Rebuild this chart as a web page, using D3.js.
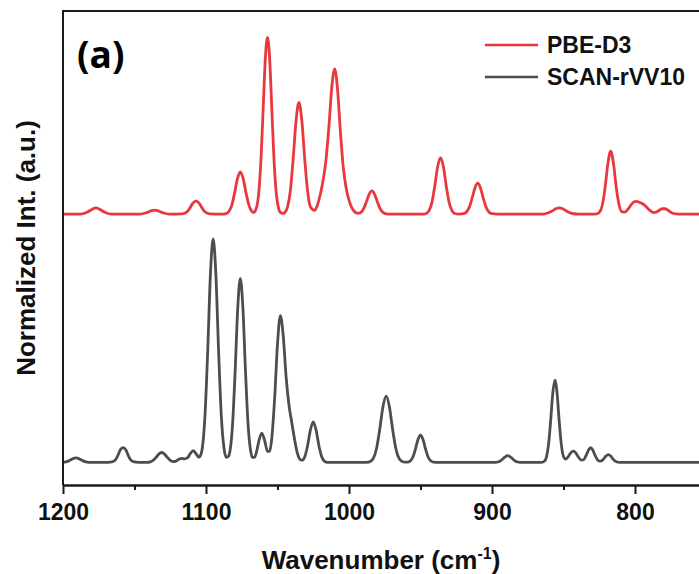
<!DOCTYPE html>
<html>
<head>
<meta charset="utf-8">
<script src="https://cdn.jsdelivr.net/npm/d3@7"></script>
<style>
  body { margin: 0; background: #fff; }
  svg { display: block; }
</style>
</head>
<body>
<svg id="chart"></svg>
<script>
// spectra: [wavenumber (cm-1), normalized intensity above own baseline]
const pbeD3 = [
  [1200,0],[1188,0],[1184,.006],[1181,.016],[1179,.024],[1177,.028],[1175,.024],[1173,.016],[1170,.006],[1166,0],
  [1147,0],[1143,.004],[1140,.01],[1138,.0155],[1136,.018],[1134,.0155],[1132,.01],[1129,.004],[1125,0],
  [1117,.001],[1115,.004],[1113,.012],[1111,.03],[1109,.05],[1107,.059],[1105,.05],[1103,.03],[1101,.012],[1099,.004],[1097,.001],[1090,0],
  [1088,0],[1086,.002],[1084,.012],[1082,.039],[1080,.094],[1078,.157],[1076,.187],[1074,.157],[1072,.094],[1070,.04],[1068,.013],[1066.5,.008],
  [1064.5,.033],[1063,.102],[1061.5,.249],[1060,.471],[1058.5,.69],[1057,.783],[1055.5,.69],[1054,.471],[1052.5,.249],[1051,.102],[1049.5,.033],[1048,.008],[1046,.003],
  [1045,.0065],[1043,.031],[1041,.104],[1039,.248],[1037,.416],[1035,.495],[1033,.416],[1031,.248],[1029,.104],[1027,.033],
  [1024,.017],[1022,.042],[1020,.089],[1018,.154],[1016,.245],[1014,.391],[1012,.564],[1010,.644],[1008,.552],[1006,.365],[1004,.207],[1002,.116],[1000,.062],[998,.028],[996,.01],[994,.004],
  [992,.0064],[990,.0216],[988,.0515],[986,.0866],[984,.103],[982,.0866],[980,.0515],[978,.0216],[976,.0064],[974,.0013],[970,0],
  [948,0],[946,.003],[944,.016],[942,.052],[940,.125],[938,.21],[936,.25],[934,.21],[932,.125],[930,.052],[928,.016],[926,.003],[923,0],
  [920,.0018],[918,.0086],[916,.029],[914,.0685],[912,.115],[910,.137],[908,.115],[906,.0685],[904,.029],[902,.0086],[900,.0018],[896,0],
  [866,0],[863,.0017],[860.5,.0059],[858,.014],[855.5,.0235],[853,.028],[850.5,.0235],[848,.014],[845.5,.0059],[843,.0017],[839,0],
  [829,0],[827,.001],[825,.0075],[823,.036],[821,.113],[819,.222],[817,.279],[815,.222],[813,.113],[811,.037],[809,.0097],[807,.009],
  [805,.021],[803,.039],[801,.053],[799,.057],[797,.053],[795,.047],[793,.038],[791,.025],[789,.013],[787,.007],[785,.0095],
  [783,.017],[781,.024],[779,.024],[777,.017],[775,.0085],[773,.003],[771,.0008],[768,0],[700,0]
];

const scanRvv10 = [
  [1200,.001],[1198,.0024],[1196,.0068],[1194,.0135],[1192,.019],[1191,.02],[1190,.019],[1188,.0135],[1186,.0068],[1184,.0024],[1182,.0006],[1178,0],
  [1170,0],[1167,.001],[1165,.004],[1163,.014],[1161.5,.033],[1160,.055],[1158,.066],[1156,.055],[1154.5,.033],[1153,.014],[1151,.004],[1149,.001],[1145,0],
  [1141,.0006],[1139,.0028],[1137,.009],[1135,.022],[1133,.037],[1131,.044],[1129,.037],[1127,.022],[1125,.009],[1123,.004],[1121,.006],
  [1119,.014],[1117,.018],[1115,.016],[1113,.02],[1111,.039],[1109,.052],[1107,.039],[1105,.023],[1103.5,.036],
  [1102,.095],[1100.7,.208],[1098.8,.495],[1096.9,.833],[1095,.99],[1093.1,.833],[1091.2,.495],[1089.3,.208],[1087.4,.063],[1085.8,.022],[1084,.03],
  [1083.2,.052],[1081.4,.171],[1079.6,.4075],[1077.8,.685],[1076,.815],[1074.2,.685],[1072.4,.4075],[1070.6,.171],[1068.8,.052],[1067.5,.022],[1066,.023],
  [1064.5,.051],[1063,.096],[1061,.13],[1059,.097],[1057,.049],[1055.5,.05],
  [1054,.107],[1052,.284],[1050,.525],[1048,.65],[1046,.562],[1044,.38],[1042,.255],[1040,.176],[1038,.10],[1036,.039],[1034,.012],[1032.5,.01],
  [1031,.024],[1029,.073],[1027,.143],[1025,.18],[1023,.143],[1021,.073],[1019,.024],[1017,.0048],[1015,.0004],[1010,0],
  [990,0],[988,.0004],[985.25,.0038],[983,.018],[980.75,.062],[978.5,.147],[976.25,.247],[974,.294],[971.75,.247],[969.5,.147],[967.25,.062],[965,.018],[962.75,.004],[960.8,.001],
  [959,.0016],[957,.0076],[955.25,.025],[953.5,.06],[951.75,.102],[950,.121],[948.25,.102],[946.5,.06],[944.75,.025],[943,.008],[941,.0016],[937,0],
  [900,0],[897.75,.0004],[896,.0019],[894.25,.0063],[892.5,.015],[890.75,.025],[889,.03],[887.25,.025],[885.5,.015],[883.75,.0063],[882,.0019],[880.25,.0004],[876,0],
  [866,0],[863.5,.0047],[862,.0228],[860.5,.0767],[859,.1825],[857.5,.307],[856,.365],[854.5,.307],[853,.1825],[851.5,.078],[850,.0265],[848.5,.015],
  [847,.023],[845,.042],[843.2,.05],[841.5,.043],[839.5,.023],[837.5,.0105],[836,.012],[834,.033],[832.5,.055],[831,.065],[829.5,.0547],[828,.033],
  [826.5,.014],[825,.0057],[823.5,.0068],[822,.015],[820.5,.027],[818.7,.035],[817,.028],[815.5,.016],[814,.0064],[812.5,.0018],[811,.0004],[808,0],[700,0]
];

const seriesNames = ['PBE-D3', 'SCAN-rVV10'];
const seriesOffsets = [1.1, 0];
const seriesColors = ['#e8383d', '#4d4d4d'];
const majorTicks = [1200, 1100, 1000, 900, 800];
const minorTicks = [1150, 1050, 950, 850];

const W = 699, H = 574;
const margin = { top: 11, left: 63, bottom: 89 };

const svg = d3.select('#chart').attr('width', W).attr('height', H);

const x = d3.scaleLinear().domain([1200, 700]).range([margin.left, margin.left + 500 * 1.43]);
const y = d3.scaleLinear().domain([-0.1, 2.0]).range([H - margin.bottom, margin.top]);

const font = '"Liberation Sans", Arial, sans-serif';

// spectra
const line = d3.line()
  .x(d => x(d[0]))
  .y(d => y(d[1]))
  .curve(d3.curveMonotoneX);

[pbeD3, scanRvv10].forEach((s, i) => {
  svg.append('path')
    .datum(s.map(d => [d[0], d[1] + seriesOffsets[i]]))
    .attr('fill', 'none')
    .attr('stroke', seriesColors[i])
    .attr('stroke-width', 2.8)
    .attr('stroke-linejoin', 'round')
    .attr('d', line);
});

// frame: top line and left axis
svg.append('line')
  .attr('x1', x(1200)).attr('x2', W)
  .attr('y1', y(2.0)).attr('y2', y(2.0))
  .attr('stroke', '#1a1a1a').attr('stroke-width', 2);
svg.append('line')
  .attr('x1', x(1200)).attr('x2', x(1200))
  .attr('y1', y(2.0) - 1).attr('y2', y(-0.1))
  .attr('stroke', '#1a1a1a').attr('stroke-width', 2);

// x axis
const gx = svg.append('g').attr('transform', `translate(0,${y(-0.1)})`);
gx.call(d3.axisBottom(x).tickValues(majorTicks).tickSize(9).tickSizeOuter(0).tickFormat(d3.format('d')));
gx.append('g').call(d3.axisBottom(x).tickValues(minorTicks).tickSize(5).tickSizeOuter(0).tickFormat(''));
gx.selectAll('path.domain').attr('stroke', '#1a1a1a').attr('stroke-width', 2);
gx.selectAll('.tick line').attr('stroke', '#1a1a1a').attr('stroke-width', 2);
gx.selectAll('.tick text')
  .attr('y', 35).attr('dy', 0)
  .attr('fill', '#111')
  .style('font-family', font)
  .style('font-weight', 'bold')
  .style('font-size', '23px');

// axis titles
const xt = svg.append('text')
  .attr('x', 381).attr('y', 569)
  .attr('text-anchor', 'middle')
  .style('font-family', font).style('font-weight', 'bold').style('font-size', '26px')
  .attr('fill', '#111');
xt.append('tspan').text('Wavenumber (cm');
xt.append('tspan').attr('dy', -10).style('font-size', '16px').text('-1');
xt.append('tspan').attr('dy', 10).text(')');

svg.append('text')
  .attr('transform', 'translate(35,248) rotate(-90)')
  .attr('text-anchor', 'middle')
  .style('font-family', font).style('font-weight', 'bold').style('font-size', '26px')
  .attr('fill', '#111')
  .text('Normalized Int. (a.u.)');

// panel label
svg.append('text')
  .attr('x', 77).attr('y', 68)
  .style('font-family', '"Open Sans", "Noto Sans", sans-serif')
  .style('font-weight', 'bold').style('font-size', '37px')
  .attr('fill', '#000')
  .text('(a)');

// legend
const legend = svg.append('g');
seriesNames.forEach((name, i) => {
  const ly = 45 + i * 32;
  legend.append('line')
    .attr('x1', 485).attr('x2', 538)
    .attr('y1', ly).attr('y2', ly)
    .attr('stroke', seriesColors[i]).attr('stroke-width', 2.5);
  legend.append('text')
    .attr('x', 547).attr('y', ly + 8)
    .style('font-family', font).style('font-weight', 'bold').style('font-size', '23px')
    .attr('fill', '#111')
    .text(name);
});
</script>
</body>
</html>
